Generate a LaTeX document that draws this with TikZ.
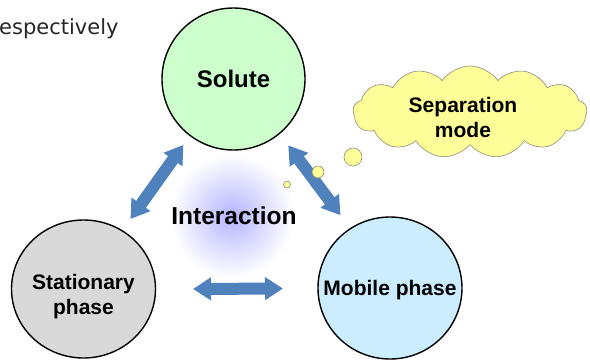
\documentclass[tikz,border=0pt]{standalone}
\usepackage{fontspec}
\setmainfont{Liberation Sans}
\newfontfamily\captionfont{DejaVu Sans}
\usetikzlibrary{shapes.geometric,shapes.symbols,arrows.meta}

\definecolor{solutefill}{RGB}{204,255,204}
\definecolor{statfill}{RGB}{217,217,217}
\definecolor{mobilefill}{RGB}{204,236,255}
\definecolor{arrowblue}{RGB}{79,129,189}
\definecolor{cloudfill}{RGB}{255,255,153}
\definecolor{cloudline}{RGB}{140,140,120}
\definecolor{glowblue}{RGB}{180,180,255}

\tikzset{
  phase/.style={ellipse, draw=black, line width=1.4pt, inner sep=0pt, align=center,
    font=\bfseries\fontsize{21}{25}\selectfont},
  blockarrow/.style={draw=arrowblue, line width=12pt,
    arrows={Triangle[length=18pt,width=22pt]-Triangle[length=18pt,width=22pt]}},
  thought/.style={circle, draw=cloudline, fill=cloudfill, line width=0.6pt, inner sep=0pt},
  label/.style={align=center, font=\bfseries\fontsize{21}{25}\selectfont}
}

\begin{document}
\begin{tikzpicture}[x=1pt,y=-1pt]
  \useasboundingbox (0,0) rectangle (590,360);
  \clip (0,0) rectangle (590,360);

  % soft halo behind the central label
  \shade[inner color=glowblue, outer color=white] (232,216) circle (62);

  % the three partners
  \node[phase, fill=solutefill, minimum width=143pt, minimum height=142pt,
        font=\bfseries\fontsize{24}{28}\selectfont] (solute) at (233.5,79) {Solute};
  \node[phase, fill=statfill, minimum width=144pt, minimum height=138pt] (stat) at (83.5,289) {};
  \node[phase, fill=mobilefill, minimum width=144pt, minimum height=142pt] (mobile) at (390,288) {};

  \node[label] (stattext) at (83.5,297) {Stationary\\phase};
  \node[label] (mobiletext) at (390,290) {Mobile phase};

  % interactions between the partners
  \draw[blockarrow, shorten <=81pt, shorten >=86pt]
    ([xshift=-3pt]solute.center) -- ([xshift=-3pt]stat.center);
  \draw[blockarrow, shorten <=83pt, shorten >=91pt]
    ([xshift=5pt]solute.center) -- ([xshift=5pt]mobile.center);
  \draw[blockarrow, shorten <=109.5pt, shorten >=107pt]
    ([yshift=-0.5pt]stat.center) -- (mobile.center);

  \node[font=\bfseries\fontsize{24.5}{28}\selectfont] (interaction) at (234,216) {Interaction};

  % thought cloud
  \node[cloud, cloud puffs=13, cloud puff arc=110, aspect=2.5, draw=cloudline, fill=cloudfill,
        line width=0.6pt, minimum width=234pt, minimum height=92pt] (cloud) at (470,112) {};
  \node[label] (cloudtext) at (463,117) {Separation\\mode};
  \node[thought, minimum size=18pt] (b1) at (353,157) {};
  \node[thought, minimum size=12pt] (b2) at (318,172) {};
  \node[thought, minimum size=7pt] (b3) at (287,184.5) {};

  % running text at the top left
  \node[anchor=base west, inner sep=0pt, text=black!85,
        font=\captionfont\fontsize{21}{24}\selectfont] (resp) at (-1,34) {espectively};
\end{tikzpicture}
\end{document}
